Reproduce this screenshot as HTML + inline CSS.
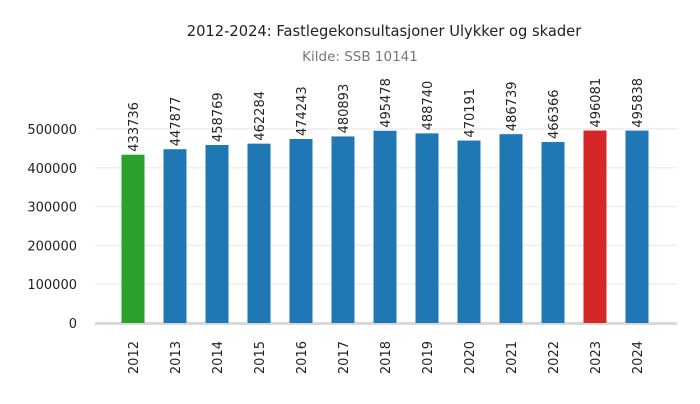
<!DOCTYPE html>
<html><head><meta charset="utf-8"><style>
body{margin:0;background:#fff;font-family:"DejaVu Sans","Liberation Sans",sans-serif;}
</style></head><body>
<svg id="chart" width="700" height="400" xmlns="http://www.w3.org/2000/svg" font-family="DejaVu Sans, Liberation Sans, sans-serif">
<text x="384" y="36" text-anchor="middle" font-size="14.7" fill="#222">2012-2024: Fastlegekonsultasjoner Ulykker og skader</text>
<text x="360" y="61" text-anchor="middle" font-size="13.5" fill="#777">Kilde: SSB 10141</text>
<g id="grid"></g><g id="bars"></g><g id="labels"></g>
</svg>
<script>
const categories=["2012","2013","2014","2015","2016","2017","2018","2019","2020","2021","2022","2023","2024"];
const values=[433736,447877,458769,462284,474243,480893,495478,488740,470191,486739,466366,496081,495838];
const colors=["#2ca02c","#1f77b4","#1f77b4","#1f77b4","#1f77b4","#1f77b4","#1f77b4","#1f77b4","#1f77b4","#1f77b4","#1f77b4","#d62728","#1f77b4"];
const yTicks=[0,100000,200000,300000,400000,500000];
const NS="http://www.w3.org/2000/svg";
const x0=95,x1=677,yBase=323,yTop=129;
const y=v=>yBase-(v/500000)*(yBase-yTop);
const step=42;
const xc=i=>133+step*i;
function mk(t,a,p){const e=document.createElementNS(NS,t);for(const k in a)e.setAttribute(k,a[k]);p.appendChild(e);return e;}
const grid=document.getElementById('grid'),bars=document.getElementById('bars'),labels=document.getElementById('labels');
yTicks.forEach(t=>{
  if(t>0){const l=mk('line',{x1:x0,x2:x1,y1:y(t),y2:y(t),stroke:'#ebebeb','stroke-width':1.2},grid);
  
  }
  const tx=mk('text',{x:77,y:y(t)+5,'text-anchor':'end','font-size':13,fill:'#222'},grid);
  tx.textContent=t;
  
  
});
const base=mk('line',{x1:x0,x2:x1,y1:yBase+0.5,y2:yBase+0.5,stroke:'#d9d9d9','stroke-width':3},grid);


const bw=23;
values.forEach((v,i)=>{
  const r=mk('rect',{x:xc(i)-bw/2,y:y(v),width:bw,height:yBase-y(v),fill:colors[i]},bars);
  
  
  const vt=mk('text',{transform:`translate(${xc(i)+5},${y(v)-3}) rotate(-90)`,'font-size':13,fill:'#222'},labels);
  vt.textContent=v;
  
  
  const ct=mk('text',{transform:`translate(${xc(i)+5},${341}) rotate(-90)`,'text-anchor':'end','font-size':13,fill:'#222'},labels);
  ct.textContent=categories[i];
  
  
});
</script>
</body></html>
